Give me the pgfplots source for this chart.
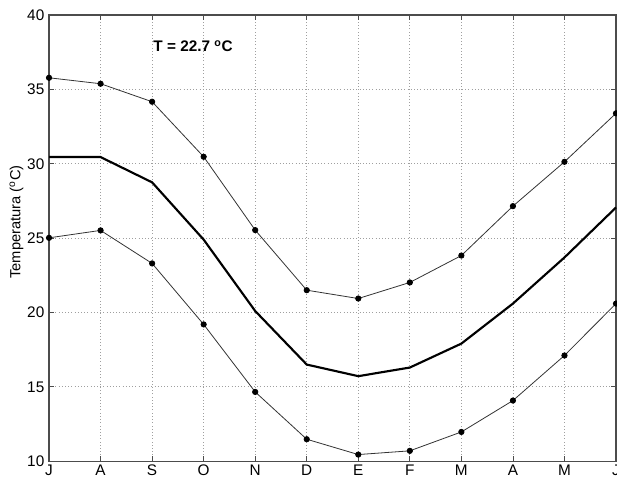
\documentclass[border=0pt]{standalone}
\usepackage{pgfplots}
\pgfplotsset{compat=1.18}
\usepackage{fontspec}
\setmainfont{Liberation Sans}
\begin{document}
\begin{tikzpicture}
\useasboundingbox (-36.75pt,-15.75pt) rectangle (425.75pt,345.75pt);
\begin{axis}[
  scale only axis,
  width=425pt, height=334.5pt,
  xmin=0, xmax=11, ymin=10, ymax=40,
  xtick={0,...,11},
  xticklabels={J,A,S,O,N,D,E,F,M,A,M,J},
  ytick={10,15,20,25,30,35,40},
  tick align=inside,
  tick pos=both,
  major tick length=4pt,
  grid=major,
  major grid style={dotted, gray!75, line width=0.6pt},
  axis line style={gray!60!black, line width=0.8pt},
  every tick/.style={gray!60!black, line width=0.6pt},
  tick label style={font=\fontsize{11.5}{12}\selectfont},
  /pgf/number format/assume math mode=true,
  ylabel={Temperatura (\textsuperscript{o}C)},
  ylabel style={font=\fontsize{11}{12}\selectfont, at={(ticklabel cs:0.536)}, yshift=-4pt},
  xticklabel style={yshift=1pt},
  clip=false,
]
\addplot[gray!40!black, line width=0.6pt, mark=*, mark size=2pt, mark options={black, fill=black}] coordinates {
(0,35.78) (1,35.38) (2,34.17) (3,30.47) (4,25.54) (5,21.5) (6,20.94) (7,22.02) (8,23.83) (9,27.15) (10,30.13) (11,33.39)};
\addplot[black, line width=1.6pt] coordinates {
(0,30.45) (1,30.45) (2,28.75) (3,24.9) (4,20.1) (5,16.5) (6,15.72) (7,16.3) (8,17.91) (9,20.6) (10,23.7) (11,27.06)};
\addplot[gray!40!black, line width=0.6pt, mark=*, mark size=2pt, mark options={black, fill=black}] coordinates {
(0,25.02) (1,25.52) (2,23.3) (3,19.2) (4,14.66) (5,11.48) (6,10.45) (7,10.7) (8,11.97) (9,14.08) (10,17.11) (11,20.6)};
\node[anchor=west, font=\bfseries\fontsize{11.5}{12}\selectfont, inner sep=0pt] at (axis cs:2.02,37.9) {T = 22.7 \textsuperscript{o}C};
\end{axis}
\end{tikzpicture}
\end{document}
